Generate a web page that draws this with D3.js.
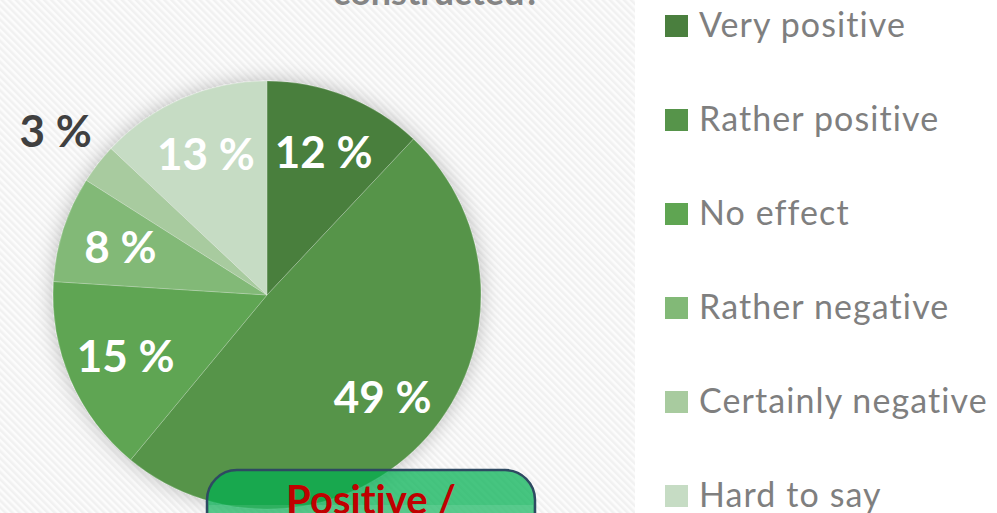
<!DOCTYPE html>
<html>
<head>
<meta charset="utf-8">
<script src="https://cdn.jsdelivr.net/npm/d3@7"></script>
<style>
  html, body { margin: 0; padding: 0; background: #ffffff; }
  svg { display: block; }
  text { font-family: Lato, "Open Sans", sans-serif; font-variant-ligatures: none; }
</style>
</head>
<body>
<div id="chart"></div>
<script>
// data
const categories = ['Very positive', 'Rather positive', 'No effect', 'Rather negative', 'Certainly negative', 'Hard to say'];
const values = [12, 49, 15, 8, 3, 13];
const colors = ['#4a7f3e', '#56944a', '#5fa552', '#82b977', '#a8cb9f', '#c6dcc4'];
const titleText = 'constructed?';
const boxText = 'Positive /';

const width = 997, height = 513;

const svg = d3.select('#chart').append('svg')
  .attr('width', width)
  .attr('height', height);

const defs = svg.append('defs');

// hatched background of the left panel
const pattern = defs.append('pattern')
  .attr('id', 'hatch')
  .attr('patternUnits', 'userSpaceOnUse')
  .attr('width', 5)
  .attr('height', 5)
  .attr('patternTransform', 'rotate(-45)');
pattern.append('rect').attr('width', 5).attr('height', 5).attr('fill', '#fcfcfc');
pattern.append('rect').attr('width', 2.5).attr('height', 5).attr('fill', '#f1f1f1');

// soft glow round the pie
const shadow = defs.append('filter')
  .attr('id', 'glow')
  .attr('x', '-25%').attr('y', '-25%')
  .attr('width', '150%').attr('height', '150%');
shadow.append('feDropShadow')
  .attr('dx', 0).attr('dy', 0)
  .attr('stdDeviation', 10)
  .attr('flood-color', '#000')
  .attr('flood-opacity', 0.25);

svg.append('rect')
  .attr('x', 0).attr('y', 0)
  .attr('width', 635).attr('height', height)
  .attr('fill', 'url(#hatch)');

// title (mostly cut off at the top, as in the source)
svg.append('text')
  .attr('x', 437)
  .attr('y', 5)
  .attr('text-anchor', 'middle')
  .attr('font-size', 36)
  .attr('font-weight', 'bold')
  .attr('fill', '#858585')
  .text(titleText);

// pie
const cx = 267, cy = 295, radius = 214;

const pie = d3.pie().sort(null).value((d) => d);
const arcs = pie(values);

const arc = d3.arc().innerRadius(0).outerRadius(radius);
const labelArc = d3.arc().innerRadius(radius * 0.72).outerRadius(radius * 0.72);
const outerArc = d3.arc().innerRadius(radius * 1.25).outerRadius(radius * 1.25);

const g = svg.append('g').attr('transform', `translate(${cx},${cy})`);

g.append('g')
  .attr('filter', 'url(#glow)')
  .selectAll('path')
  .data(arcs)
  .enter()
  .append('path')
  .attr('d', arc)
  .attr('fill', (d, i) => colors[i])
  .attr('stroke', 'rgba(255,255,255,0.2)')
  .attr('stroke-width', 1);

// slice labels
g.selectAll('.label')
  .data(arcs)
  .enter()
  .append('text')
  .attr('class', 'label')
  .attr('transform', (d) => {
    const c = d.data < 5 ? outerArc.centroid(d) : labelArc.centroid(d);
    return `translate(${c[0]},${c[1]})`;
  })
  .attr('dy', 16)
  .attr('text-anchor', 'middle')
  .attr('font-size', 44)
  .attr('font-weight', 'bold')
  .attr('fill', (d) => (d.data < 5 ? '#404040' : '#ffffff'))
  .text((d) => `${d.data} %`);

// callout box at the bottom
const box = svg.append('g');
box.append('rect')
  .attr('x', 207).attr('y', 470)
  .attr('width', 328).attr('height', 90)
  .attr('rx', 30).attr('ry', 30)
  .attr('fill', '#00b050')
  .attr('fill-opacity', 0.72)
  .attr('stroke', '#2e4a62')
  .attr('stroke-width', 2.5);
box.append('rect')
  .attr('x', 209).attr('y', 505)
  .attr('width', 324).attr('height', 8)
  .attr('fill', '#ffffff')
  .attr('opacity', 0.1);
box.append('text')
  .attr('x', 371)
  .attr('y', 514)
  .attr('text-anchor', 'middle')
  .attr('font-size', 40)
  .attr('font-weight', 'bold')
  .attr('fill', '#c00000')
  .text(boxText);

// legend
const legendY = d3.scaleLinear().domain([0, categories.length - 1]).range([26, 496]);

const legend = svg.append('g')
  .selectAll('g')
  .data(categories)
  .enter()
  .append('g')
  .attr('transform', (d, i) => `translate(665,${legendY(i)})`);

legend.append('rect')
  .attr('x', 0).attr('y', -11)
  .attr('width', 23).attr('height', 22)
  .attr('fill', (d, i) => colors[i]);

legend.append('text')
  .attr('x', 34)
  .attr('y', 11)
  .attr('font-size', 34)
  .attr('letter-spacing', 1.1)
  .attr('fill', '#7f7f7f')
  .text((d) => d);
</script>
</body>
</html>
